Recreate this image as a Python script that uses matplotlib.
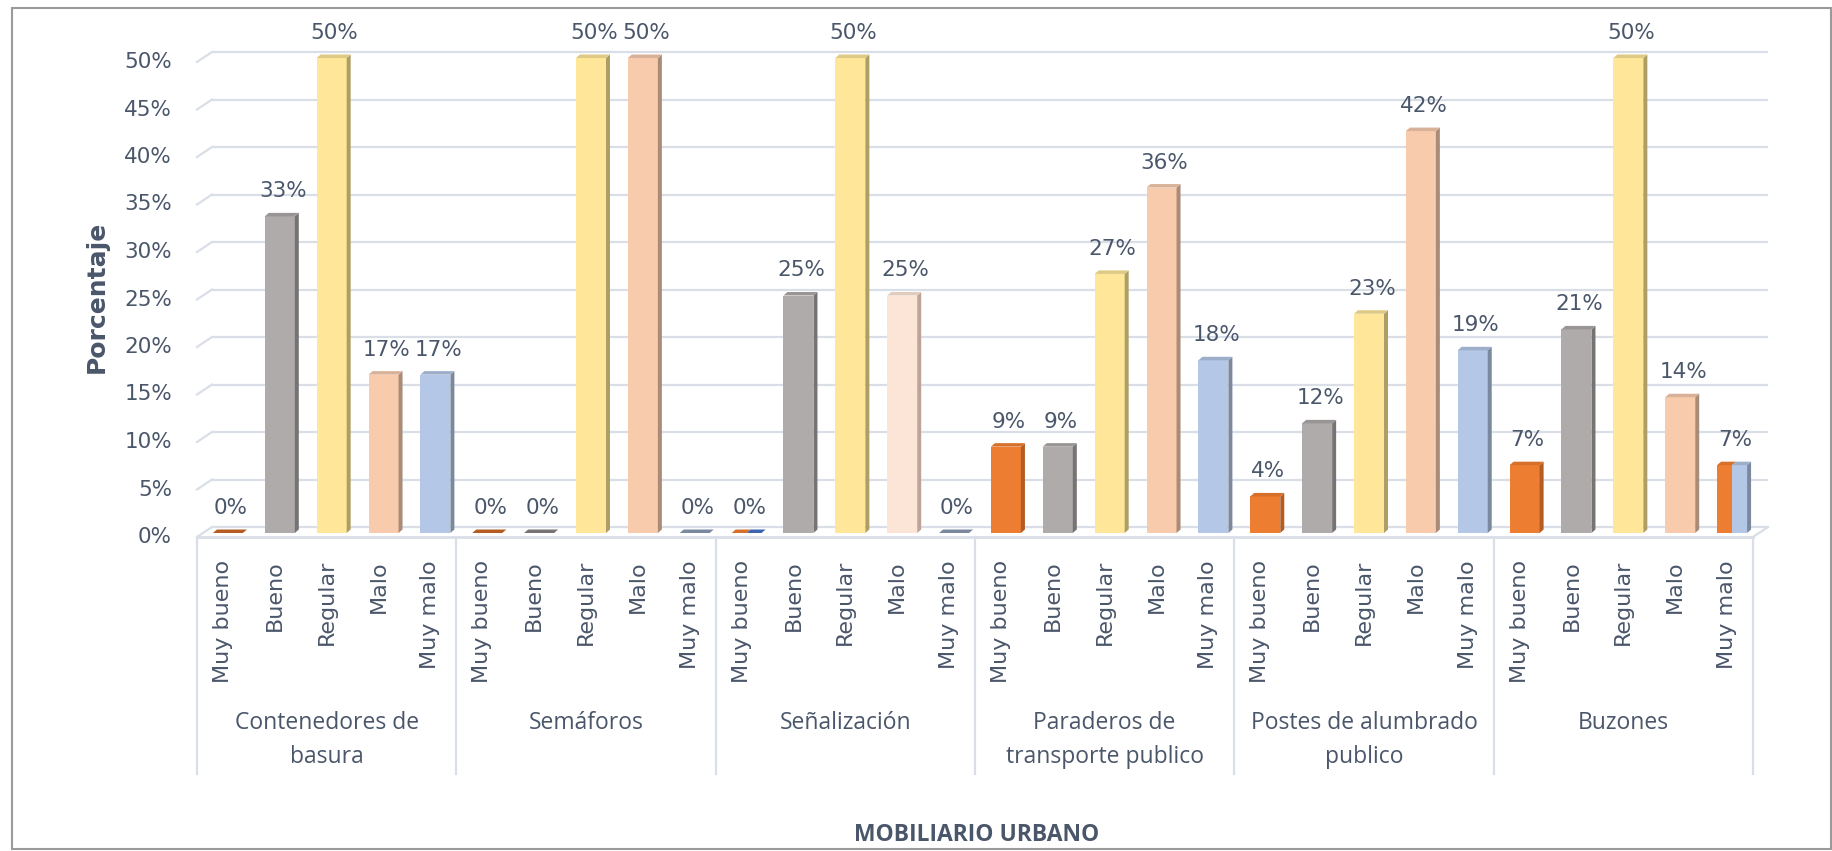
import matplotlib
matplotlib.use("Agg")
import matplotlib.pyplot as plt
from matplotlib.patches import Polygon, Rectangle
import numpy as np

# ---------------- data ----------------
groups = ["Contenedores de\nbasura", "Semáforos", "Señalización",
          "Paraderos de\ntransporte publico", "Postes de alumbrado\npublico", "Buzones"]
categories = ["Muy bueno", "Bueno", "Regular", "Malo", "Muy malo"]
contenedores = [0.0, 33.33, 50.0, 16.67, 16.67]
semaforos = [0.0, 0.0, 50.0, 50.0, 0.0]
senalizacion = [0.0, 25.0, 50.0, 25.0, 0.0]
paraderos = [9.09, 9.09, 27.27, 36.36, 18.18]
postes = [3.85, 11.54, 23.08, 42.31, 19.23]
buzones = [7.14, 21.43, 50.0, 14.29, 7.14]
values = [contenedores, semaforos, senalizacion, paraderos, postes, buzones]
y_ticks = [0, 5, 10, 15, 20, 25, 30, 35, 40, 45, 50]

# ---------------- style ----------------
front_cols = ["#ED7D31", "#AEABAA", "#FFE699", "#F8CBAD", "#B4C7E7"]
side_cols = ["#B45C22", "#767372", "#AD9E66", "#A98B78", "#7B899F"]
special_front = {(2, 3): "#FCE4D6"}
special_side = {(2, 3): "#BCA598"}
split_bars = {(2, 0), (5, 4)}   # bars drawn half orange / half blue

txt_col = "#4A566A"
grid_col = "#D9DEE7"

W, H = 1833, 851
fig = plt.figure(figsize=(W / 100, H / 100), dpi=100)

x_left, x_right = 197, 1753
y_floor, y_top = 537, 62
ax = fig.add_axes([x_left / W, (H - y_floor) / H, (x_right - x_left) / W, (y_floor - y_top) / H])
n_slots = len(groups) * len(categories)
ax.set_xlim(0, n_slots)
ax.set_ylim(0, 50)
ax.axis("off")

px_x = n_slots / (x_right - x_left)
px_y = 50 / (y_floor - y_top)

# back wall gridlines (3D look)
dep_x, dep_y = 15 * px_x, 10 * px_y
for v in y_ticks:
    ax.plot([dep_x, n_slots + dep_x], [v + dep_y, v + dep_y], color=grid_col, lw=1.6,
            clip_on=False, zorder=1, solid_capstyle="butt")
    ax.plot([0, dep_x], [v, v + dep_y], color=grid_col, lw=1.6, clip_on=False, zorder=1)
    ax.text(-25 * px_x, v, f"{v}%", ha="right", va="center", fontsize=15.5,
            color=txt_col, family="DejaVu Sans")
# floor front edge and right edge
ax.plot([0, n_slots], [0, 0], color=grid_col, lw=2.0, clip_on=False, zorder=1)
ax.plot([n_slots, n_slots + dep_x], [0, dep_y], color=grid_col, lw=1.6, clip_on=False, zorder=1)

# ---------------- bars ----------------
bw = 30 * px_x
off_x, off_y = 5 * px_x, 4 * px_y
sx, sy = 4 * px_x, 3.5 * px_y

def mix(c1, c2, t=0.5):
    a = np.array(matplotlib.colors.to_rgb(c1))
    b = np.array(matplotlib.colors.to_rgb(c2))
    return tuple(a * (1 - t) + b * t)

for g, vals in enumerate(values):
    for c, v in enumerate(vals):
        slot = g * 5 + c
        xc = slot + 0.5 + off_x
        fc = special_front.get((g, c), front_cols[c])
        sc = special_side.get((g, c), side_cols[c])
        x0, x1 = xc - bw / 2, xc + bw / 2
        y0, y1 = off_y, off_y + v
        if (g, c) in split_bars:
            xm = xc
            ax.bar(x0, v, width=xm - x0, bottom=y0, align="edge", color=front_cols[0],
                   lw=0, zorder=3, clip_on=False)
            ax.bar(xm, v, width=x1 - xm, bottom=y0, align="edge", color=front_cols[4],
                   lw=0, zorder=3, clip_on=False)
            ax.add_patch(Polygon([(x1, y0), (x1 + sx, y0 + sy), (x1 + sx, y1 + sy), (x1, y1)],
                                 closed=True, fc=side_cols[4], lw=0, zorder=3, clip_on=False))
            ax.add_patch(Polygon([(x0, y1), (xm, y1), (xm + sx, y1 + sy), (x0 + sx, y1 + sy)],
                                 closed=True, fc=mix(front_cols[0], side_cols[0], 0.4), lw=0,
                                 zorder=3, clip_on=False))
            topblue = "#3E64B0" if v == 0 else mix(front_cols[4], side_cols[4], 0.4)
            ax.add_patch(Polygon([(xm, y1), (x1, y1), (x1 + sx, y1 + sy), (xm + sx, y1 + sy)],
                                 closed=True, fc=topblue, lw=0,
                                 zorder=3, clip_on=False))
        else:
            ax.bar(xc, v, width=bw, bottom=y0, color=fc, lw=0, zorder=3, clip_on=False)
            ax.add_patch(Polygon([(x1, y0), (x1 + sx, y0 + sy), (x1 + sx, y1 + sy), (x1, y1)],
                                 closed=True, fc=sc, lw=0, zorder=3, clip_on=False))
            tc = mix(fc, sc, 0.4) if v > 0 else sc
            ax.add_patch(Polygon([(x0, y1), (x1, y1), (x1 + sx, y1 + sy), (x0 + sx, y1 + sy)],
                                 closed=True, fc=tc, lw=0, zorder=3, clip_on=False))
        ax.text(xc + 3 * px_x, y1 + 25 * px_y, f"{round(v):d}%", ha="center", va="center",
                fontsize=15.5, color=txt_col, family="DejaVu Sans", zorder=5)

# ---------------- category axis ----------------
for s in range(n_slots):
    ax.text(s + 0.5, -23 * px_y, categories[s % 5], rotation=90, ha="center", va="top",
            fontsize=16, color=txt_col, family="DejaVu Sans")
for g in range(len(groups) + 1):
    ax.plot([g * 5, g * 5], [0, -237 * px_y], color=grid_col, lw=1.6, clip_on=False, zorder=1)
for g, name in enumerate(groups):
    ax.text(g * 5 + 2.5, -(711 - y_floor) * px_y, name, ha="center", va="top",
            fontsize=16.5, color=txt_col, family="Open Sans", linespacing=1.55)

# axis titles
fig.text(97 / W, 1 - 297 / H, "Porcentaje", rotation=90, ha="center", va="center",
         fontsize=18, fontweight="bold", color=txt_col, family="DejaVu Sans")
fig.text(977 / W, 1 - 835 / H, "MOBILIARIO URBANO", ha="center", va="center",
         fontsize=16.5, fontweight="bold", color=txt_col, family="Open Sans")

# outer frame
fig.add_artist(Rectangle((12 / W, 2 / H), (W - 14) / W, (H - 10) / H, transform=fig.transFigure,
                         fill=False, ec="#9A9A9A", lw=1.5))

fig.savefig("out.png", dpi=100)
